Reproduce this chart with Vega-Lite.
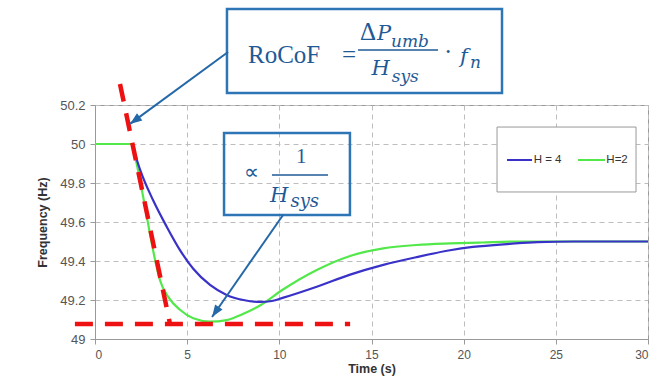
{
  "$schema": "https://vega.github.io/schema/vega-lite/v6.json",
  "width": 553,
  "height": 234,
  "autosize": {"type": "none"},
  "padding": {"left": 95, "top": 105, "right": 15, "bottom": 39},
  "background": "white",
  "config": {
    "font": "Liberation Sans",
    "view": {"stroke": "#999", "strokeWidth": 1},
    "axis": {
      "labelFont": "Liberation Sans", "labelFontSize": 12, "labelColor": "#555", "labelOverlap": false,
      "titleFont": "Liberation Sans", "titleFontSize": 12.5, "titleFontWeight": "bold", "titleColor": "#333",
      "domainColor": "#999", "tickColor": "#999", "tickSize": 5, "labelPadding": 5,
      "gridColor": "#bdbdbd", "gridDash": [5, 4], "gridWidth": 1
    }
  },
  "layer": [
    {
      "data": {"values": [
        {"series": "H=2", "t": 0, "f": 50}, {"series": "H=2", "t": 1, "f": 50}, {"series": "H=2", "t": 2, "f": 50},
        {"series": "H=2", "t": 2.2, "f": 49.925}, {"series": "H=2", "t": 2.44, "f": 49.815}, {"series": "H=2", "t": 2.71, "f": 49.68},
        {"series": "H=2", "t": 2.98, "f": 49.54}, {"series": "H=2", "t": 3.26, "f": 49.405}, {"series": "H=2", "t": 3.53, "f": 49.3},
        {"series": "H=2", "t": 3.98, "f": 49.215}, {"series": "H=2", "t": 4.61, "f": 49.15}, {"series": "H=2", "t": 5.33, "f": 49.106},
        {"series": "H=2", "t": 6.24, "f": 49.089}, {"series": "H=2", "t": 7.14, "f": 49.097}, {"series": "H=2", "t": 8.05, "f": 49.13},
        {"series": "H=2", "t": 8.95, "f": 49.172}, {"series": "H=2", "t": 10.22, "f": 49.255}, {"series": "H=2", "t": 12.03, "f": 49.354},
        {"series": "H=2", "t": 13.84, "f": 49.426}, {"series": "H=2", "t": 15.64, "f": 49.465}, {"series": "H=2", "t": 17.45, "f": 49.482},
        {"series": "H=2", "t": 19.26, "f": 49.49}, {"series": "H=2", "t": 21, "f": 49.495}, {"series": "H=2", "t": 23, "f": 49.5},
        {"series": "H=2", "t": 26, "f": 49.5}, {"series": "H=2", "t": 30, "f": 49.5},
        {"series": "H = 4", "t": 2, "f": 50}, {"series": "H = 4", "t": 2.2, "f": 49.94}, {"series": "H = 4", "t": 2.44, "f": 49.87},
        {"series": "H = 4", "t": 3.16, "f": 49.71}, {"series": "H = 4", "t": 3.89, "f": 49.576}, {"series": "H = 4", "t": 4.61, "f": 49.456},
        {"series": "H = 4", "t": 5.33, "f": 49.36}, {"series": "H = 4", "t": 6.24, "f": 49.277}, {"series": "H = 4", "t": 7.14, "f": 49.226},
        {"series": "H = 4", "t": 8.05, "f": 49.2}, {"series": "H = 4", "t": 8.95, "f": 49.19}, {"series": "H = 4", "t": 9.6, "f": 49.195},
        {"series": "H = 4", "t": 10.22, "f": 49.212}, {"series": "H = 4", "t": 12.03, "f": 49.268}, {"series": "H = 4", "t": 13.84, "f": 49.33},
        {"series": "H = 4", "t": 15.64, "f": 49.38}, {"series": "H = 4", "t": 17.45, "f": 49.42}, {"series": "H = 4", "t": 19.26, "f": 49.455},
        {"series": "H = 4", "t": 20.5, "f": 49.472}, {"series": "H = 4", "t": 22.5, "f": 49.488}, {"series": "H = 4", "t": 24, "f": 49.497},
        {"series": "H = 4", "t": 26, "f": 49.5}, {"series": "H = 4", "t": 30, "f": 49.5}
      ]},
      "mark": {"type": "line", "strokeWidth": 2.2, "interpolate": "monotone"},
      "encoding": {
        "x": {"field": "t", "type": "quantitative", "scale": {"domain": [0, 30], "nice": false},
              "axis": {"title": "Time (s)", "values": [0, 5, 10, 15, 20, 25, 30], "tickCount": 7, "grid": true, "titlePadding": 2}},
        "y": {"field": "f", "type": "quantitative", "scale": {"domain": [49, 50.2], "nice": false, "zero": false},
              "axis": {"title": "Frequency (Hz)", "values": [49, 49.2, 49.4, 49.6, 49.8, 50, 50.2], "tickCount": 7, "format": "~g", "grid": true, "labelFontSize": 13, "titlePadding": 10}},
        "color": {"field": "series", "type": "nominal", "scale": {"domain": ["H = 4", "H=2"], "range": ["#3a32c8", "#52e84a"]}, "legend": null}
      }
    },
    {
      "data": {"values": [
        {"t": -1.09, "f": 49.077, "t2": 13.84, "f2": 49.077},
        {"t": 1.356, "f": 50.308, "t2": 4.07, "f2": 49.077}
      ]},
      "mark": {"type": "rule", "color": "#ee1111", "strokeWidth": 4.5, "strokeDash": [18, 12], "strokeCap": "butt"},
      "encoding": {
        "x": {"field": "t", "type": "quantitative"}, "y": {"field": "f", "type": "quantitative"},
        "x2": {"field": "t2"}, "y2": {"field": "f2"}
      }
    },
    {
      "data": {"values": [
        {"t": 21.81, "f": 50.087, "t2": 29.35, "f2": 49.754}
      ]},
      "mark": {"type": "rect", "fill": "white", "stroke": "#999", "strokeWidth": 1},
      "encoding": {
        "x": {"field": "t", "type": "quantitative"}, "y": {"field": "f", "type": "quantitative"},
        "x2": {"field": "t2"}, "y2": {"field": "f2"}
      }
    },
    {
      "data": {"values": [
        {"series": "H = 4", "t": 22.35, "t2": 23.71, "f": 49.918},
        {"series": "H=2", "t": 26.2, "t2": 27.67, "f": 49.918}
      ]},
      "mark": {"type": "rule", "strokeWidth": 2},
      "encoding": {
        "x": {"field": "t", "type": "quantitative"}, "x2": {"field": "t2"},
        "y": {"field": "f", "type": "quantitative"},
        "color": {"field": "series", "type": "nominal", "legend": null}
      }
    },
    {
      "data": {"values": [
        {"label": "H = 4", "t": 23.8, "f": 49.918},
        {"label": "H=2", "t": 27.74, "f": 49.918}
      ]},
      "mark": {"type": "text", "font": "Liberation Sans", "fontSize": 11.5, "color": "#333", "align": "left", "baseline": "middle"},
      "encoding": {
        "x": {"field": "t", "type": "quantitative"}, "y": {"field": "f", "type": "quantitative"},
        "text": {"field": "label"}
      }
    },
    {
      "data": {"values": [
        {"t": 7.16, "f": 50.692, "t2": 22.08, "f2": 50.262},
        {"t": 7.0, "f": 50.056, "t2": 13.83, "f2": 49.636}
      ]},
      "mark": {"type": "rect", "fillOpacity": 0, "fill": "white", "stroke": "#2e75b6", "strokeWidth": 2.5},
      "encoding": {
        "x": {"field": "t", "type": "quantitative"}, "y": {"field": "f", "type": "quantitative"},
        "x2": {"field": "t2"}, "y2": {"field": "f2"}
      }
    },
    {
      "data": {"values": [
        {"t": 7.22, "f": 50.472, "t2": 1.9, "f2": 50.103},
        {"t": 10.2, "f": 49.636, "t2": 6.35, "f2": 49.113}
      ]},
      "mark": {"type": "rule", "color": "#2468a8", "strokeWidth": 2},
      "encoding": {
        "x": {"field": "t", "type": "quantitative"}, "y": {"field": "f", "type": "quantitative"},
        "x2": {"field": "t2"}, "y2": {"field": "f2"}
      }
    },
    {
      "data": {"values": [{"t": 1.9, "f": 50.103}]},
      "mark": {"type": "point", "shape": "M0,0L-0.75,2L0.75,2Z", "size": 144, "angle": 233.5, "filled": true, "color": "#2468a8", "opacity": 1},
      "encoding": {"x": {"field": "t", "type": "quantitative"}, "y": {"field": "f", "type": "quantitative"}}
    },
    {
      "data": {"values": [{"t": 6.35, "f": 49.113}]},
      "mark": {"type": "point", "shape": "M0,0L-0.75,2L0.75,2Z", "size": 144, "angle": 214.3, "filled": true, "color": "#2468a8", "opacity": 1},
      "encoding": {"x": {"field": "t", "type": "quantitative"}, "y": {"field": "f", "type": "quantitative"}}
    },
    {
      "data": {"values": [
        {"t": 14.27, "f": 50.482, "t2": 18.61},
        {"t": 9.6, "f": 49.841, "t2": 12.64}
      ]},
      "mark": {"type": "rule", "color": "#1f5a96", "strokeWidth": 1.5},
      "encoding": {
        "x": {"field": "t", "type": "quantitative"}, "x2": {"field": "t2"},
        "y": {"field": "f", "type": "quantitative"}
      }
    },
    {
      "data": {"values": [
        {"s": "RoCoF", "t": 8.3, "f": 50.415},
        {"s": "=", "t": 13.4, "f": 50.415},
        {"s": "Δ", "t": 14.38, "f": 50.533},
        {"s": "·", "t": 18.93, "f": 50.431}
      ]},
      "mark": {"type": "text", "font": "Liberation Serif", "fontSize": 25, "color": "#1f5a96", "align": "left", "baseline": "alphabetic"},
      "encoding": {
        "x": {"field": "t", "type": "quantitative"}, "y": {"field": "f", "type": "quantitative"},
        "text": {"field": "s"}
      }
    },
    {
      "data": {"values": [
        {"s": "∝", "t": 8.08, "f": 49.821},
        {"s": "1", "t": 10.9, "f": 49.903}
      ]},
      "mark": {"type": "text", "font": "Liberation Serif", "fontSize": 21, "color": "#1f5a96", "align": "left", "baseline": "alphabetic"},
      "encoding": {
        "x": {"field": "t", "type": "quantitative"}, "y": {"field": "f", "type": "quantitative"},
        "text": {"field": "s"}
      }
    },
    {
      "data": {"values": [
        {"s": "P", "t": 15.3, "f": 50.533},
        {"s": "H", "t": 15.0, "f": 50.354},
        {"s": "f", "t": 19.8, "f": 50.415},
        {"s": "H", "t": 9.5, "f": 49.703}
      ]},
      "mark": {"type": "text", "font": "DejaVu Serif", "fontStyle": "italic", "fontSize": 21, "color": "#1f5a96", "align": "left", "baseline": "alphabetic"},
      "encoding": {
        "x": {"field": "t", "type": "quantitative"}, "y": {"field": "f", "type": "quantitative"},
        "text": {"field": "s"}
      }
    },
    {
      "data": {"values": [
        {"s": "umb", "t": 16.06, "f": 50.497},
        {"s": "sys", "t": 16.1, "f": 50.318},
        {"s": "n", "t": 20.34, "f": 50.39}
      ]},
      "mark": {"type": "text", "font": "DejaVu Serif", "fontStyle": "italic", "fontSize": 17, "color": "#1f5a96", "align": "left", "baseline": "alphabetic"},
      "encoding": {
        "x": {"field": "t", "type": "quantitative"}, "y": {"field": "f", "type": "quantitative"},
        "text": {"field": "s"}
      }
    },
    {
      "data": {"values": [
        {"s": "sys", "t": 10.6, "f": 49.677}
      ]},
      "mark": {"type": "text", "font": "DejaVu Serif", "fontStyle": "italic", "fontSize": 18, "color": "#1f5a96", "align": "left", "baseline": "alphabetic"},
      "encoding": {
        "x": {"field": "t", "type": "quantitative"}, "y": {"field": "f", "type": "quantitative"},
        "text": {"field": "s"}
      }
    }
  ]
}
